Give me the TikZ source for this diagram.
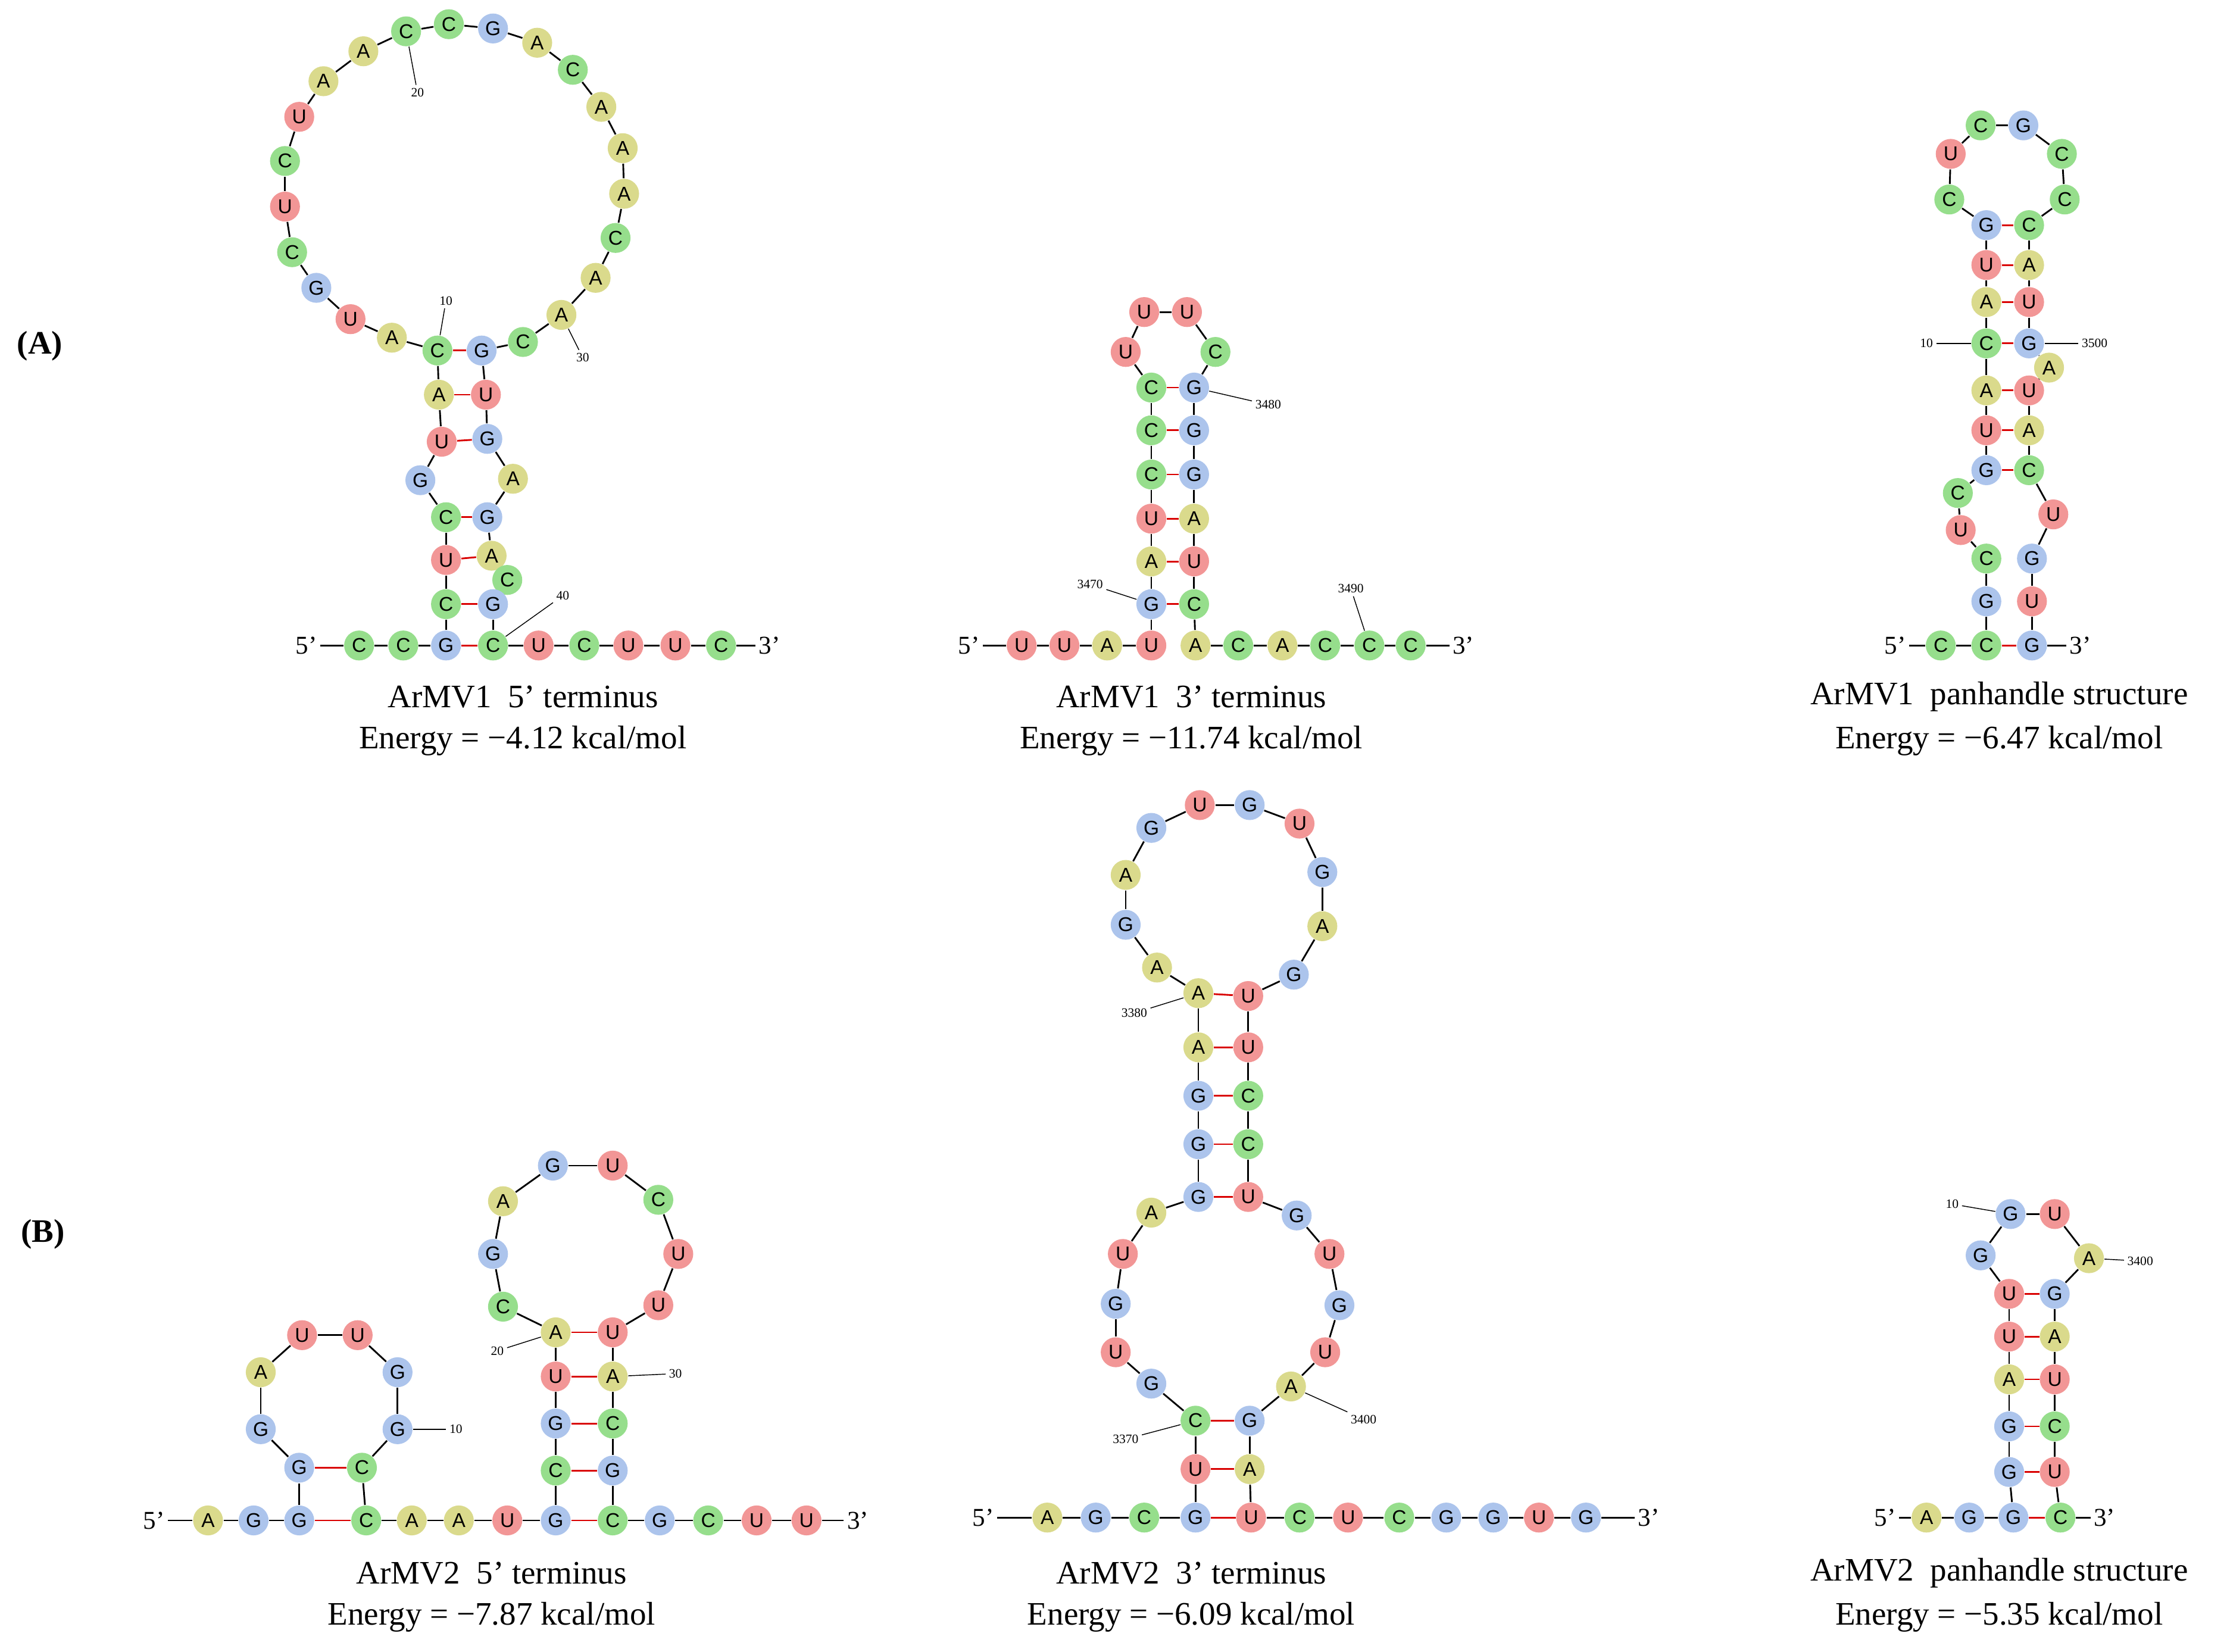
\documentclass[tikz,border=0pt]{standalone}
\usepackage{fontspec}
\setmainfont{Liberation Serif}
\newfontfamily\ntf{Liberation Sans}
\pgfdeclarelayer{bg}\pgfsetlayers{bg,main}
\definecolor{cA}{RGB}{218,218,140}
\definecolor{cC}{RGB}{150,222,140}
\definecolor{cG}{RGB}{172,196,236}
\definecolor{cU}{RGB}{242,150,150}
\tikzset{
 nt/.style={circle,inner sep=0pt,minimum size=10.5pt,font=\ntf\fontsize{7}{7}\selectfont},
 bA/.style={fill=cA},bC/.style={fill=cC},bG/.style={fill=cG},bU/.style={fill=cU},
 bb/.style={black,line width=0.6pt},
 pr/.style={red!85!black,line width=0.6pt},
 endl/.style={font=\fontsize{9}{9}\selectfont,inner sep=1pt},
 num/.style={font=\fontsize{4.5}{5}\selectfont,inner sep=1pt},
 numl/.style={black,line width=0.3pt},
 captxt/.style={font=\fontsize{11.5}{12}\selectfont,inner sep=0pt},
 panel/.style={font=\bfseries\fontsize{11.5}{12}\selectfont}
}
\newcommand\strand[2]{\foreach[count=\i] \x/\y/\l in {#2}{\node[nt,b\l] (#1\i) at (\x,\y) {\l}; \xdef\nlast{\i}}%
 \begin{pgfonlayer}{bg}\foreach \i in {2,...,\nlast}{\pgfmathtruncatemacro\j{\i-1}\draw[bb] (#1\j)--(#1\i);}\end{pgfonlayer}}
\newcommand\pairs[2]{\begin{pgfonlayer}{bg}\foreach \a/\b in {#2}{\draw[pr] (#1\a)--(#1\b);}\end{pgfonlayer}}
\newcommand\strandends[6]{\node[endl] (#1five) at (#2,#3) {5’};\node[endl] (#1three) at (#4,#3) {3’};
 \draw[bb] (#1five)--(#1#5); \draw[bb] (#1three)--(#1#6);}
\newcommand\numlab[5]{\node[num] (#1n#4) at (#2,#3) {#4}; \draw[numl] (#1n#4)--(#1#5);}
\begin{document}
\begin{tikzpicture}[x=0.5pt,y=-0.5pt]
\useasboundingbox (0,0) rectangle (1565,1159);
\node[panel] (pA) at (28,243) {(A)};
\node[panel] (pB) at (30,866) {(B)};
% ---- ArMV1 5'
\strand{a}{252/453/C,283/453/C,313/453/G,313/424/C,313/393/U,313/363/C,295/337/G,310/310/U,308/277/A,307/246/C,
275/237/A,246/224/U,222/202/G,205/177/C,200/145/U,200/113/C,210/82/U,227/57/A,255/36/A,285/22/C,
315/17/C,346/20/G,377/30/A,402/49/C,422/75/A,437/104/A,438/136/A,432/167/C,418/195/A,394/221/A,
367/240/C,338/246/G,341/277/U,342/308/G,360/336/A,342/363/G,345/390/A,356/407/C,346/424/G,346/453/C,
378/453/U,410/453/C,441/453/U,474/453/U,506/453/C}
\pairs{a}{10/32,9/33,8/34,6/36,5/37,4/39,3/40}
\strandends{a}{215}{453}{540}{1}{45}
\numlab{a}{313}{211}{10}{10}\numlab{a}{293}{65}{20}{20}\numlab{a}{409}{251}{30}{30}\numlab{a}{395}{418}{40}{40}
\node[captxt] (ca1) at (367,489) {ArMV1\ \ 5’ terminus};
\node[captxt] (ca2) at (367,520) {Energy = −4.12 kcal/mol};
% ---- ArMV1 3'
\strand{b}{717/453/U,747/453/U,777/453/A,808/453/U,808/424/G,808/394/A,808/364/U,808/333/C,808/302/C,808/272/C,
790/247/U,803/219/U,833/219/U,853/247/C,838/272/G,838/302/G,838/333/G,838/364/A,838/394/U,838/424/C,
839/453/A,869/453/C,900/453/A,930/453/C,961/453/C,990/453/C}
\pairs{b}{5/20,6/19,7/18,8/17,9/16,10/15}
\strandends{b}{680}{453}{1027}{1}{26}
\numlab{b}{765}{410}{3470}{5}\numlab{b}{890}{284}{3480}{15}\numlab{b}{948}{413}{3490}{25}
\node[captxt] (cb1) at (836,489) {ArMV1\ \ 3’ terminus};
\node[captxt] (cb2) at (836,520) {Energy = −11.74 kcal/mol};
% ---- ArMV1 panhandle
\strand{c}{1362/453/C,1394/453/C,1394/422/G,1394/392/C,1376/372/U,1374/346/C,1394/330/G,1394/302/U,1394/274/A,1394/241/C,
1394/212/A,1394/186/U,1394/158/G,1368/140/C,1369/108/U,1390/88/C,1420/88/G,1447/108/C,1449/140/C,1424/158/C,
1424/186/A,1424/212/U,1424/241/G,1438/258/A,1424/274/U,1424/302/A,1424/330/C,1441/361/U,1426/392/G,1426/422/U,1426/453/G}
\pairs{c}{13/20,12/21,11/22,10/23,9/25,8/26,7/27,2/31}
\strandends{c}{1330}{453}{1460}{1}{31}
\numlab{c}{1352}{241}{10}{10}\numlab{c}{1470}{241}{3500}{23}
\node[captxt] (cc1) at (1403,489) {ArMV1\ \ panhandle structure};
\node[captxt] (cc2) at (1403,520) {Energy = −6.47 kcal/mol};
% ---- ArMV2 5'
\strand{d}{146/1067/A,178/1067/G,210/1067/G,210/1030/G,183/1003/G,183/963/A,212/937/U,251/937/U,279/963/G,279/1003/G,
254/1030/C,257/1067/C,289/1067/A,322/1067/A,356/1067/U,390/1067/G,390/1032/C,390/999/G,390/966/U,390/935/A,
353/917/C,346/880/G,353/843/A,388/818/G,430/818/U,462/842/C,476/880/U,462/916/U,430/935/U,430/966/A,
430/999/C,430/1032/G,430/1067/C,463/1067/G,497/1067/C,531/1067/U,566/1067/U}
\pairs{d}{3/12,4/11,16/33,17/32,18/31,19/30,20/29}
\strandends{d}{108}{1067}{602}{1}{37}
\numlab{d}{320}{1003}{10}{10}\numlab{d}{349}{948}{20}{20}\numlab{d}{474}{964}{30}{30}
\node[captxt] (cd1) at (345,1104) {ArMV2\ \ 5’ terminus};
\node[captxt] (cd2) at (345,1135) {Energy = −7.87 kcal/mol};
% ---- ArMV2 3'
\strand{e}{735/1065/A,769/1065/G,803/1065/C,839/1065/G,839/1031/U,839/997/C,808/971/G,783/949/U,783/915/G,788/880/U,
808/851/A,841/840/G,841/803/G,841/769/G,841/735/A,841/697/A,812/679/A,790/649/G,790/614/A,808/581/G,
842/565/U,877/565/G,912/578/U,928/612/G,928/650/A,908/684/G,876/699/U,876/735/U,876/769/C,876/803/C,
876/840/U,910/853/G,933/880/U,940/916/G,930/949/U,906/973/A,877/997/G,877/1031/A,878/1065/U,912/1065/C,
946/1065/U,982/1065/C,1015/1065/G,1048/1065/G,1080/1065/U,1113/1065/G}
\pairs{e}{4/39,5/38,6/37,12/31,13/30,14/29,15/28,16/27}
\strandends{e}{690}{1065}{1157}{1}{46}
\numlab{e}{796}{711}{3380}{16}\numlab{e}{790}{1010}{3370}{6}\numlab{e}{957}{996}{3400}{36}
\node[captxt] (ce1) at (836,1104) {ArMV2\ \ 3’ terminus};
\node[captxt] (ce2) at (836,1135) {Energy = −6.09 kcal/mol};
% ---- ArMV2 panhandle
\strand{f}{1352/1065/A,1382/1065/G,1413/1065/G,1410/1033/G,1410/1001/G,1410/968/A,1410/938/U,1410/908/U,1390/881/G,1411/852/G,
1442/852/U,1466/883/A,1442/908/G,1442/938/A,1442/968/U,1442/1001/C,1442/1033/U,1446/1065/C}
\pairs{f}{3/18,4/17,5/16,6/15,7/14,8/13}
\strandends{f}{1323}{1065}{1477}{1}{18}
\numlab{f}{1370}{845}{10}{10}\numlab{f}{1502}{885}{3400}{12}
\node[captxt] (cf1) at (1403,1104) {ArMV2\ \ panhandle structure};
\node[captxt] (cf2) at (1403,1135) {Energy = −5.35 kcal/mol};
\end{tikzpicture}
\end{document}
